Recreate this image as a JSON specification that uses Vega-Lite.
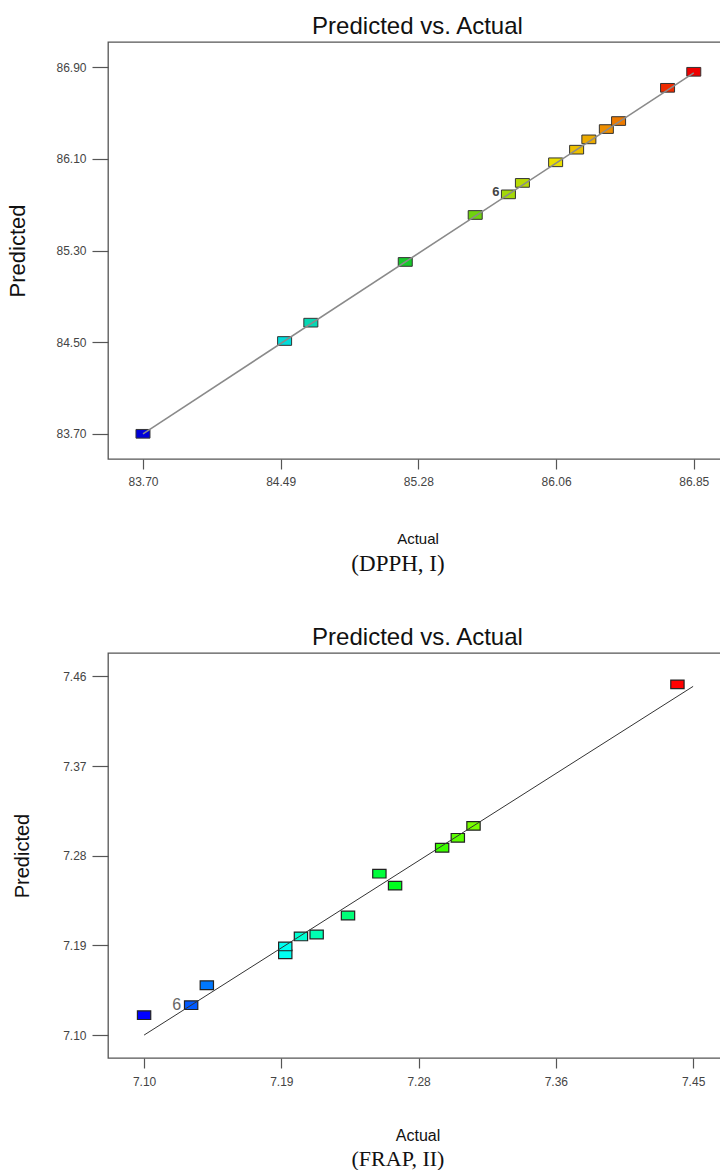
{
  "$schema": "https://vega.github.io/schema/vega-lite/v6.json",
  "background": "white",
  "padding": {"left": 6, "top": 14, "right": 0, "bottom": 0},
  "config": {
    "font": "Liberation Sans",
    "view": {"stroke": "#555555", "strokeWidth": 1.3},
    "axis": {
      "grid": false,
      "domain": false,
      "labelFont": "Liberation Sans",
      "labelFontSize": 12,
      "labelColor": "#444444",
      "tickColor": "#555555",
      "tickWidth": 1.2,
      "titleFont": "Liberation Sans",
      "titleFontWeight": "normal",
      "titleColor": "#111111"
    },
    "title": {"font": "Liberation Sans", "fontWeight": "normal", "fontSize": 24, "color": "#111111"}
  },
  "datasets": {
    "dpph": [
      {"actual": 83.70, "predicted": 83.70, "label": ""},
      {"actual": 84.51, "predicted": 84.51, "label": ""},
      {"actual": 84.66, "predicted": 84.67, "label": ""},
      {"actual": 85.20, "predicted": 85.20, "label": ""},
      {"actual": 85.60, "predicted": 85.61, "label": ""},
      {"actual": 85.79, "predicted": 85.79, "label": "6"},
      {"actual": 85.87, "predicted": 85.89, "label": ""},
      {"actual": 86.06, "predicted": 86.07, "label": ""},
      {"actual": 86.18, "predicted": 86.18, "label": ""},
      {"actual": 86.25, "predicted": 86.27, "label": ""},
      {"actual": 86.35, "predicted": 86.36, "label": ""},
      {"actual": 86.42, "predicted": 86.43, "label": ""},
      {"actual": 86.70, "predicted": 86.72, "label": ""},
      {"actual": 86.85, "predicted": 86.86, "label": ""}
    ],
    "dpph_line": [
      {"x1": 83.70, "y1": 83.70, "x2": 86.85, "y2": 86.85}
    ],
    "frap": [
      {"actual": 7.10, "predicted": 7.12, "label": ""},
      {"actual": 7.13, "predicted": 7.13, "label": "6"},
      {"actual": 7.14, "predicted": 7.15, "label": ""},
      {"actual": 7.19, "predicted": 7.181, "label": ""},
      {"actual": 7.19, "predicted": 7.189, "label": ""},
      {"actual": 7.20, "predicted": 7.199, "label": ""},
      {"actual": 7.21, "predicted": 7.201, "label": ""},
      {"actual": 7.23, "predicted": 7.22, "label": ""},
      {"actual": 7.25, "predicted": 7.262, "label": ""},
      {"actual": 7.26, "predicted": 7.25, "label": ""},
      {"actual": 7.29, "predicted": 7.288, "label": ""},
      {"actual": 7.30, "predicted": 7.298, "label": ""},
      {"actual": 7.31, "predicted": 7.31, "label": ""},
      {"actual": 7.44, "predicted": 7.452, "label": ""}
    ],
    "frap_line": [
      {"x1": 7.10, "y1": 7.10, "x2": 7.45, "y2": 7.45}
    ]
  },
  "resolve": {"scale": {"color": "independent"}},
  "spacing": 49,
  "vconcat": [
    {
      "title": {"text": "(DPPH, I)", "orient": "bottom", "font": "Liberation Serif", "fontSize": 23, "offset": 6, "anchor": "middle", "frame": "group", "dx": 290, "color": "#111111"},
      "vconcat": [
        {
          "title": {"text": "Predicted vs. Actual", "offset": 3, "frame": "group", "anchor": "middle"},
          "width": 619,
          "height": 417,
          "data": {"name": "dpph"},
          "layer": [
            {
              "mark": {"type": "point", "shape": "M-1,-0.62H1V0.62H-1Z", "size": 196, "filled": true, "opacity": 1, "stroke": "#333333", "strokeWidth": 1},
              "encoding": {
                "x": {
                  "field": "actual", "type": "quantitative",
                  "scale": {"domain": [83.50, 87.04], "nice": false, "zero": false},
                  "axis": {"title": "Actual", "titleFontSize": 15, "titlePadding": 44, "values": [83.7, 84.4875, 85.275, 86.0625, 86.85], "labelExpr": "format(datum.value + 0.0001, '.2f')", "tickSize": 10, "labelPadding": 7}
                },
                "y": {
                  "field": "predicted", "type": "quantitative",
                  "scale": {"domain": [83.48, 87.12], "nice": false, "zero": false},
                  "axis": {"title": "Predicted", "titleFontSize": 22, "titlePadding": 26, "values": [83.7, 84.5, 85.3, 86.1, 86.9], "format": ".2f", "tickSize": 16, "labelPadding": 6}
                },
                "color": {
                  "field": "actual", "type": "quantitative", "legend": null,
                  "scale": {"domain": [83.70, 84.4875, 85.275, 86.0625, 86.85], "range": ["#0000d8", "#00dde0", "#18c818", "#ece000", "#ee0000"], "interpolate": "rgb"}
                }
              }
            },
            {
              "data": {"name": "dpph_line"},
              "mark": {"type": "rule", "color": "#8a8a8a", "strokeWidth": 1.6},
              "encoding": {
                "x": {"field": "x1", "type": "quantitative"},
                "y": {"field": "y1", "type": "quantitative"},
                "x2": {"field": "x2"},
                "y2": {"field": "y2"}
              }
            },
            {
              "transform": [{"filter": "datum.label"}],
              "mark": {"type": "text", "align": "right", "baseline": "middle", "dx": -9, "dy": -2, "fontSize": 13, "fontWeight": "bold", "color": "#444444"},
              "encoding": {
                "x": {"field": "actual", "type": "quantitative"},
                "y": {"field": "predicted", "type": "quantitative"},
                "text": {"field": "label"}
              }
            }
          ]
        }
      ]
    },
    {
      "title": {"text": "(FRAP, II)", "orient": "bottom", "font": "Liberation Serif", "fontSize": 22, "offset": 5, "anchor": "middle", "frame": "group", "dx": 290, "color": "#111111"},
      "vconcat": [
        {
          "title": {"text": "Predicted vs. Actual", "offset": 3, "frame": "group", "anchor": "middle"},
          "width": 619,
          "height": 405,
          "data": {"name": "frap"},
          "layer": [
            {
              "mark": {"type": "point", "shape": "M-1,-0.65H1V0.65H-1Z", "size": 177, "filled": true, "opacity": 1, "stroke": "#222222", "strokeWidth": 1.2},
              "encoding": {
                "x": {
                  "field": "actual", "type": "quantitative",
                  "scale": {"domain": [7.077, 7.4716], "nice": false, "zero": false},
                  "axis": {"title": "Actual", "titleFontSize": 16, "titlePadding": 40, "values": [7.1, 7.1875, 7.275, 7.3625, 7.45], "labelExpr": "format(datum.value + 0.0001, '.2f')", "tickSize": 10, "labelPadding": 8}
                },
                "y": {
                  "field": "predicted", "type": "quantitative",
                  "scale": {"domain": [7.077, 7.4835], "nice": false, "zero": false},
                  "axis": {"title": "Predicted", "titleFontSize": 20, "titlePadding": 30, "values": [7.1, 7.19, 7.28, 7.37, 7.46], "format": ".2f", "tickSize": 16, "labelPadding": 6}
                },
                "color": {
                  "field": "actual", "type": "quantitative", "legend": null,
                  "scale": {"domain": [7.10, 7.185, 7.27, 7.355, 7.44], "range": ["#0000ff", "#00ffff", "#00ff00", "#ffff00", "#ff0000"], "interpolate": "rgb"}
                }
              }
            },
            {
              "data": {"name": "frap_line"},
              "mark": {"type": "rule", "color": "#333333", "strokeWidth": 1},
              "encoding": {
                "x": {"field": "x1", "type": "quantitative"},
                "y": {"field": "y1", "type": "quantitative"},
                "x2": {"field": "x2"},
                "y2": {"field": "y2"}
              }
            },
            {
              "transform": [{"filter": "datum.label"}],
              "mark": {"type": "text", "align": "right", "baseline": "middle", "dx": -10, "dy": 0, "fontSize": 16, "color": "#666666"},
              "encoding": {
                "x": {"field": "actual", "type": "quantitative"},
                "y": {"field": "predicted", "type": "quantitative"},
                "text": {"field": "label"}
              }
            }
          ]
        }
      ]
    }
  ]
}
